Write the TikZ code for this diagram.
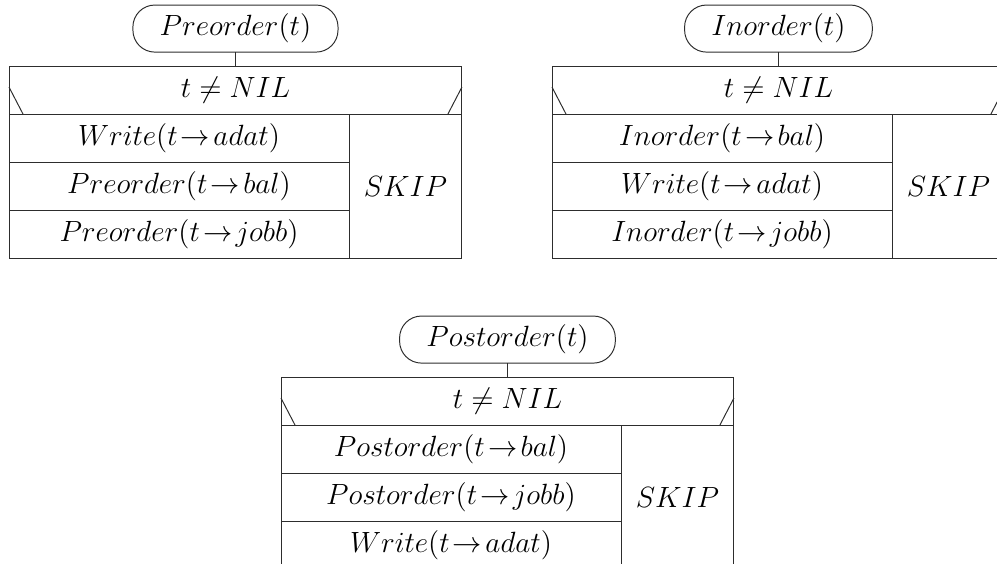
\documentclass[tikz,border=0pt]{standalone}
\usepackage{amsmath,amssymb}
\usetikzlibrary{positioning, calc}
\definecolor{linegray}{RGB}{45,45,45}

\begin{document}
\begin{tikzpicture}[
    x=0.41pt, y=-0.41pt,
    every node/.style={outer sep=0pt, font=\large},
    headbox/.style={rectangle, rounded corners=9pt, draw=linegray, inner xsep=11pt, minimum height=19.3pt},
    condbox/.style={rectangle, draw=linegray, minimum width=185.7pt, minimum height=19.7pt, inner sep=0pt},
    stepbox/.style={rectangle, draw=linegray, minimum width=139.4pt, minimum height=19.7pt, inner sep=0pt},
    skipbox/.style={rectangle, draw=linegray, minimum width=46.3pt, minimum height=59.1pt, inner sep=0pt},
    joinline/.style={draw=linegray}
]
\useasboundingbox (0,0) rectangle (997,564);

% Preorder
\node[condbox, anchor=north west] (preC) at (9,66) {$t \neq NIL$};
\node[headbox, above=5.7pt of preC] (pre) {$Preorder(t)$};
\node[stepbox, below right=0pt of preC.south west] (preA) {$Write(t\!\rightarrow\!adat)$};
\node[stepbox, below=0pt of preA] (preB) {$Preorder(t\!\rightarrow\!bal)$};
\node[stepbox, below=0pt of preB] (preJ) {$Preorder(t\!\rightarrow\!jobb)$};
\node[skipbox, below left=0pt of preC.south east] (preS) {$SKIP$};
\draw[joinline] (pre) -- (preC);
\draw[joinline] ($(preC.south west)+(0,-27)$) -- ($(preC.south west)+(14,0)$);
\draw[joinline] ($(preC.south east)+(0,-27)$) -- ($(preC.south east)+(-14,0)$);

% Inorder
\node[condbox, anchor=north west] (inC) at (552,66) {$t \neq NIL$};
\node[headbox, above=5.7pt of inC] (in) {$Inorder(t)$};
\node[stepbox, below right=0pt of inC.south west] (inB) {$Inorder(t\!\rightarrow\!bal)$};
\node[stepbox, below=0pt of inB] (inA) {$Write(t\!\rightarrow\!adat)$};
\node[stepbox, below=0pt of inA] (inJ) {$Inorder(t\!\rightarrow\!jobb)$};
\node[skipbox, below left=0pt of inC.south east] (inS) {$SKIP$};
\draw[joinline] (in) -- (inC);
\draw[joinline] ($(inC.south west)+(0,-27)$) -- ($(inC.south west)+(14,0)$);
\draw[joinline] ($(inC.south east)+(0,-27)$) -- ($(inC.south east)+(-14,0)$);

% Postorder
\node[condbox, anchor=north west] (postC) at (281,377) {$t \neq NIL$};
\node[headbox, above=5.7pt of postC] (post) {$Postorder(t)$};
\node[stepbox, below right=0pt of postC.south west] (postB) {$Postorder(t\!\rightarrow\!bal)$};
\node[stepbox, below=0pt of postB] (postJ) {$Postorder(t\!\rightarrow\!jobb)$};
\node[stepbox, below=0pt of postJ] (postA) {$Write(t\!\rightarrow\!adat)$};
\node[skipbox, below left=0pt of postC.south east] (postS) {$SKIP$};
\draw[joinline] (post) -- (postC);
\draw[joinline] ($(postC.south west)+(0,-27)$) -- ($(postC.south west)+(14,0)$);
\draw[joinline] ($(postC.south east)+(0,-27)$) -- ($(postC.south east)+(-14,0)$);

\end{tikzpicture}
\end{document}
